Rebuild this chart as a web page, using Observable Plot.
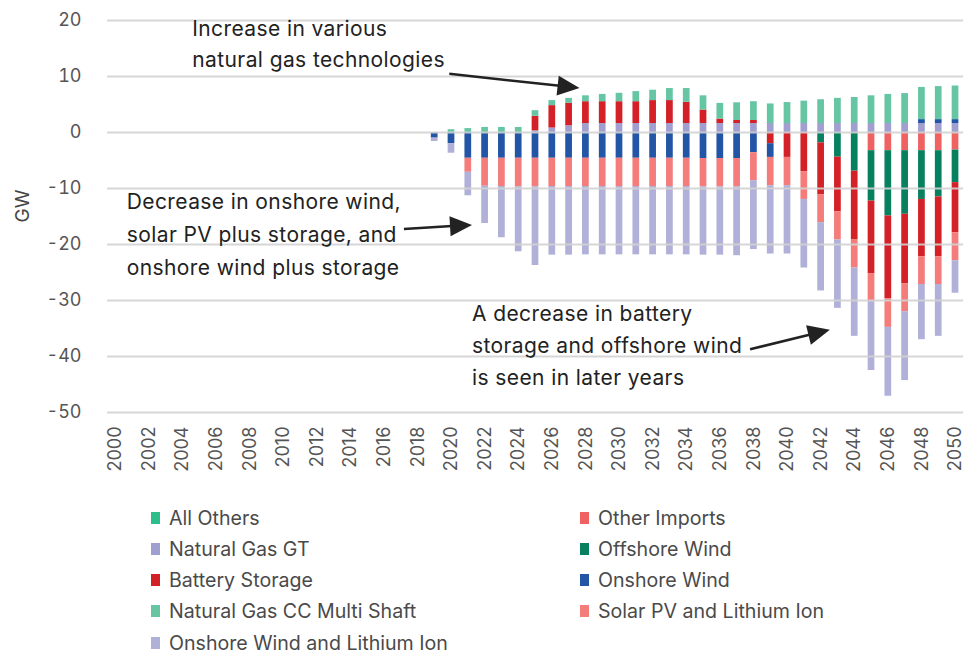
<!DOCTYPE html>
<html><head><meta charset="utf-8">
<script src="https://cdn.jsdelivr.net/npm/d3@7"></script>
<script src="https://cdn.jsdelivr.net/npm/@observablehq/plot@0.6"></script>
<style>
body{margin:0;background:#fff;font-family:Inter,"Noto Sans",sans-serif;}
#legend{display:grid;grid-template-columns:429px 381px;padding-left:151px;margin-top:12px;}
.item{height:31.25px;display:flex;align-items:center;font-size:19.6px;color:#4a4a4a;white-space:nowrap;}
.sw{width:9px;height:12px;margin-right:9px;flex:none;}
</style></head><body><div id="chart"></div><div id="legend"></div>
<script>
const years = d3.range(2000, 2051);
const dataYears = d3.range(2019, 2051);
const yTicks = [20, 10, 0, -10, -20, -30, -40, -50];

// Values in GW, for years 2019..2050
const allOthers = new Array(32).fill(0);
const naturalGasGT = [0,0,0,0,0,0,0.3,0.8,1.2,1.6,1.6,1.6,1.6,1.6,1.6,1.6,
  1.6,1.6,1.6,1.6,1.6,1.6,1.6,1.6,1.6,1.6,1.6,1.6,1.6,1.6,1.6,1.6];
const batteryStorage = [0,0,0,0,0,0,2.6,4.0,4.0,3.9,3.9,3.9,3.9,4.1,4.1,3.8,
  2.4,0.8,0.55,0.55,-2.0,-4.45,-7.0,-9.25,-9.75,-12.3,-12.95,-14.8,-12.4,-10.25,-10.7,-8.95];
const naturalGasCC = [0,0.5,0.7,0.9,0.9,0.9,1.0,0.9,0.9,1.05,1.3,1.5,1.8,1.85,2.15,2.45,
  2.55,2.8,3.15,3.35,3.5,3.75,4.0,4.25,4.5,4.65,4.95,5.2,5.35,5.75,5.9,6.0];
const onshoreWind = [-1.0,-2.0,-4.6,-4.6,-4.6,-4.6,-4.6,-4.6,-4.6,-4.6,-4.6,-4.6,-4.6,-4.6,-4.6,-4.6,
  -4.65,-4.65,-4.65,-3.6,-2.45,0,0,0,0,0,0,0,0,0.7,0.7,0.7];
const offshoreWind = [0,0,0,0,0,0,0,0,0,0,0,0,0,0,0,0,
  0,0,0,0,0,0,0,-1.85,-4.4,-6.9,-9.0,-11.65,-11.35,-8.7,-8.25,-5.8];
const otherImports = [0,0,0,0,0,0,0,0,0,0,0,0,0,0,0,0,
  0,0,0,0,0,0,0,0,0,0,-3.25,-3.25,-3.25,-3.25,-3.25,-3.15];
const solarPVLithium = [0,0,-2.5,-5.0,-5.05,-5.1,-5.1,-5.05,-5.05,-5.05,-5.05,-5.05,-5.05,-5.05,-5.05,-5.05,
  -5.05,-5.05,-5.05,-5.0,-5.05,-5.05,-4.95,-5.0,-5.05,-5.0,-5.0,-5.1,-5.0,-4.95,-4.95,-5.0];
const onshoreWindLithium = [-0.6,-1.7,-4.2,-6.65,-9.15,-11.6,-14.05,-12.25,-12.25,-12.2,-12.2,-12.2,-12.2,-12.2,-12.2,-12.2,
  -12.2,-12.2,-12.3,-12.3,-12.2,-12.2,-12.25,-12.2,-12.2,-12.2,-12.3,-12.3,-12.3,-9.85,-9.25,-5.8];

const seriesNames = ["All Others","Other Imports","Natural Gas GT","Offshore Wind","Battery Storage","Onshore Wind",
  "Natural Gas CC Multi Shaft","Solar PV and Lithium Ion","Onshore Wind and Lithium Ion"];
const seriesColors = ["#2dbe8c","#f06262","#a09fd0","#06805f","#d42027","#2255a5","#66c6a4","#f47c7a","#b0b0d8"];
const seriesValues = {
  "All Others": allOthers, "Other Imports": otherImports, "Natural Gas GT": naturalGasGT,
  "Offshore Wind": offshoreWind, "Battery Storage": batteryStorage, "Onshore Wind": onshoreWind,
  "Natural Gas CC Multi Shaft": naturalGasCC, "Solar PV and Lithium Ion": solarPVLithium,
  "Onshore Wind and Lithium Ion": onshoreWindLithium
};
// stacking order from the zero line outward
const stackOrder = ["Other Imports","Offshore Wind","Natural Gas GT","Battery Storage","Onshore Wind",
  "Solar PV and Lithium Ion","Onshore Wind and Lithium Ion","Natural Gas CC Multi Shaft","All Others"];

const annotationTexts = [
  {lines: ["Increase in various", "natural gas technologies"], year: 2004.6, value: 18.2, lh: 31},
  {lines: ["Decrease in onshore wind,", "solar PV plus storage, and", "onshore wind plus storage"], year: 2000.7, value: -12.7, lh: 33},
  {lines: ["A decrease in battery", "storage and offshore wind", "is seen in later years"], year: 2021.25, value: -32.7, lh: 32}
];
const annotationArrows = [
  {from: [2019.9, 10.4], to: [2027.65, 7.85]},
  {from: [2017.2, -17.3], to: [2021.25, -16.6]},
  {from: [2037.8, -38.8], to: [2042.55, -35.3]}
];

const table = [];
for (const name of seriesNames) {
  seriesValues[name].forEach((v, i) => { if (v !== 0) table.push({year: dataYears[i], series: name, value: v}); });
}

function annotations(index, scales) {
  const x = scales.x, y = scales.y;
  const x0 = x(2000) + x.bandwidth() / 2, step = x.step();
  const px = yr => x0 + (yr - 2000) * step;
  const g = d3.create("svg:g");
  for (const t of annotationTexts) {
    const text = g.append("text").attr("font-size", 21).attr("fill", "#222")
      .attr("letter-spacing", "0.4px")
      .attr("text-anchor", "start").attr("font-family", "Inter, sans-serif");
    t.lines.forEach((line, i) => {
      text.append("tspan").attr("x", px(t.year)).attr("y", y(t.value) + i * t.lh)
        .attr("dominant-baseline", "middle").attr("text-anchor", "start").text(line);
    });
  }
  for (const a of annotationArrows) {
    const x1 = px(a.from[0]), y1 = y(a.from[1]), x2 = px(a.to[0]), y2 = y(a.to[1]);
    const dx = x2 - x1, dy = y2 - y1, len = Math.hypot(dx, dy);
    const ux = dx / len, uy = dy / len, hl = 22, hw = 10;
    const bx = x2 - ux * hl, by = y2 - uy * hl;
    g.append("line").attr("x1", x1).attr("y1", y1).attr("x2", bx + ux * 2).attr("y2", by + uy * 2)
      .attr("stroke", "#222").attr("stroke-width", 2.5);
    g.append("path").attr("fill", "#222")
      .attr("d", `M${x2},${y2}L${bx - uy * hw},${by + ux * hw}L${bx + uy * hw},${by - ux * hw}Z`);
  }
  return g.node();
}

const chart = Plot.plot({
  width: 963, height: 490,
  marginLeft: 107, marginRight: 0, marginTop: 20, marginBottom: 78,
  style: {fontFamily: "Inter, sans-serif", fontSize: "18px", color: "#555", background: "#fff"},
  x: {type: "band", domain: years, paddingInner: 0.6, paddingOuter: 0.275,
      ticks: years.filter(d => d % 2 === 0), tickFormat: d => String(d),
      tickRotate: -90, tickSize: 0, tickPadding: 14, label: null},
  y: {domain: [-50, 20], ticks: yTicks, tickFormat: d => String(d), tickSize: 0, tickPadding: 26, label: null},
  color: {domain: seriesNames, range: seriesColors},
  marks: [
    Plot.barY(table, Plot.stackY({x: "year", y: "value", fill: "series", order: stackOrder})),
    Plot.ruleY(yTicks, {stroke: "#d2d2d2", strokeWidth: 2, strokeOpacity: 0.9}),
    Plot.text(["GW"], {frameAnchor: "left", dx: -85, dy: 6, rotate: -90, fontSize: 19, fill: "#444"}),
    annotations
  ]
});
document.getElementById("chart").appendChild(chart);

const legendOrder = ["All Others","Other Imports","Natural Gas GT","Offshore Wind","Battery Storage","Onshore Wind",
  "Natural Gas CC Multi Shaft","Solar PV and Lithium Ion","Onshore Wind and Lithium Ion"];
const legend = document.getElementById("legend");
for (const name of legendOrder) {
  const item = document.createElement("div");
  item.className = "item";
  const sw = document.createElement("span");
  sw.className = "sw";
  sw.style.background = seriesColors[seriesNames.indexOf(name)];
  item.appendChild(sw);
  item.appendChild(document.createTextNode(name));
  legend.appendChild(item);
}
</script></body></html>
